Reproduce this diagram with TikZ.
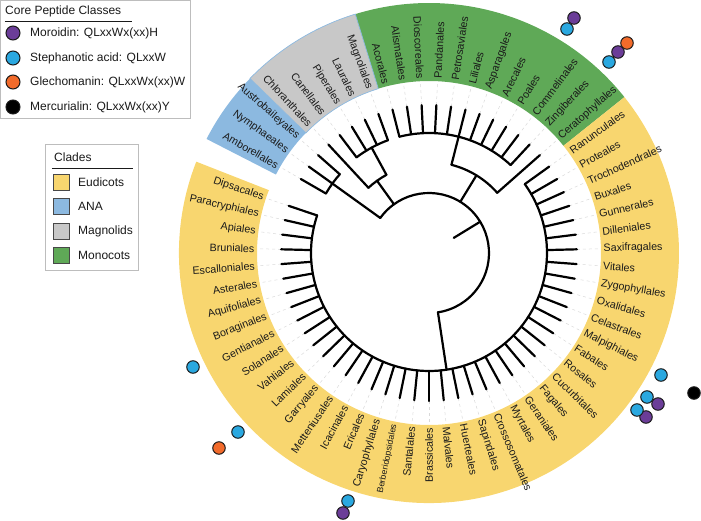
\documentclass[tikz,border=0pt]{standalone}
\usepackage{fontspec}
\setmainfont{Liberation Sans}
\usetikzlibrary{calc}
\definecolor{txt}{HTML}{1A1A1A}
\definecolor{eud}{HTML}{F8D66F}
\definecolor{ana}{HTML}{8CB9E0}
\definecolor{mag}{HTML}{C8C8C8}
\definecolor{mono}{HTML}{5FA957}
\definecolor{moro}{HTML}{6B3D98}
\definecolor{steph}{HTML}{2AA8E0}
\definecolor{glech}{HTML}{F26B2B}
\definecolor{merc}{HTML}{000000}
\definecolor{boxline}{HTML}{BDBDBD}
\tikzset{
  branch/.style={draw=black, line width=2.2pt, line cap=round, line join=round},
  tipline/.style={draw=black!15, dashed, line width=0.5pt},
  lab/.style={text=txt, font=\fontsize{10.7}{12}\selectfont, inner sep=0.5pt},
  legtxt/.style={text=txt, font=\fontsize{12}{14}\selectfont, anchor=west, inner sep=0pt},
  pep/.style={circle, draw=txt, line width=1pt, inner sep=0pt, minimum size=12.5pt},
  swatch/.style={draw=txt!80, line width=0.8pt},
  legbox/.style={draw=boxline, line width=1pt, fill=white},
}
% angle of leaf number #1 (0 = Amborellales, clockwise)
\newcommand{\lang}[1]{\fpeval{150-(#1)*360/63}}
% node arc at radius #1 from angle #2 to #3, stem from radius #4
\newcommand{\clade}[4]{%
  \draw[branch] (#2:#1) arc[start angle=#2, end angle=#3, radius=#1];
  \pgfmathsetmacro{\stemang}{(#2+#3)/2}
  \draw[branch] (\stemang:#4) -- (\stemang:#1);
}

\begin{document}
\begin{tikzpicture}[x=1pt,y=1pt]
  \useasboundingbox (-429,-267) rectangle (272,253);
  \def\Rin{172}
  \def\Rout{250}
  \def\Rtip{148}

  % clade sectors
  \foreach \a/\b/\c in {152.857/135.714/ana, 135.714/107.143/mag,
                        107.143/38.571/mono, 38.571/-201.429/eud}
    \fill[\c] (\a:\Rin) arc[start angle=\a, end angle=\b, radius=\Rin]
      -- (\b:\Rout) arc[start angle=\b, end angle=\a, radius=\Rout] -- cycle;
  \draw[ana, line width=0.7pt] (135.714:\Rin) arc[start angle=135.714, end angle=107.143, radius=\Rin]
      -- (107.143:\Rout) arc[start angle=107.143, end angle=135.714, radius=\Rout] -- cycle;

  % leaf labels
  \foreach \nm [count=\k from 0] in {Amborellales, Nymphaeales, Austrobaileyales,
      Chloranthales, Canellales, Piperales, Laurales, Magnoliales,
      Acorales, Alismatales, Dioscoreales, Pandanales, Petrosaviales, Liliales,
      Asparagales, Arecales, Poales, Commelinales, Zingiberales, Ceratophyllales,
      Ranunculales, Proteales, Trochodendrales, Buxales, Gunnerales, Dilleniales,
      Saxifragales, Vitales, Zygophyllales, Oxalidales, Celastrales, Malpighiales,
      Fabales, Rosales, Cucurbitales, Fagales, Geraniales, Myrtales,
      Crossosomatales, Sapindales, Huerteales, Malvales, Brassicales, Santalales,
      {\fontsize{8.8}{10}\selectfont Berberidopsidales}, Caryophyllales, Ericales,
      Icacinales, Metteniusales, Garryales, Lamiales, Vahliales, Solanales,
      Gentianales, Boraginales, Aquifoliales, Asterales, Escalloniales, Bruniales,
      Apiales, Paracryphiales, Dipsacales} {
    \pgfmathsetmacro{\a}{150-\k*5.7142857}
    \pgfmathsetmacro{\ra}{\a+180}
    \draw[tipline] (\a:\Rtip) -- (\a:\Rin);
    \ifnum\k<11
      \node[lab, anchor=east, rotate=\ra] at (\a:174) {\nm};
    \else\ifnum\k>41
      \node[lab, anchor=east, rotate=\ra] at (\a:174) {\nm};
    \else
      \node[lab, anchor=west, rotate=\a] at (\a:174) {\nm};
    \fi\fi
  }

  % tree: leaves
  \foreach \k/\r in {0/119, 1/119, 2/119, 3/89, 19/91}
    \draw[branch] (\lang{\k}:\r) -- (\lang{\k}:\Rtip);
  \foreach \k in {4,...,18}
    \draw[branch] (\lang{\k}:120) -- (\lang{\k}:\Rtip);
  \foreach \k in {20,...,61}
    \draw[branch] (\lang{\k}:118) -- (\lang{\k}:\Rtip);

  % tree: inner nodes
  \clade{119}{\lang{0}}{\lang{2}}{60}
  \clade{120}{\lang{4}}{\lang{7}}{89}
  \clade{89}{\lang{3}}{118.571}{60}
  \clade{120}{\lang{8}}{\lang{18}}{91}
  \clade{91}{75.714}{\lang{19}}{60}
  \clade{118}{\lang{20}}{\lang{61}}{60}
  \clade{60}{\lang{1}}{-81.429}{29}

  % legends and peptide marks, in pixel coordinates
  \begin{scope}[shift={(-429,253)}, yscale=-1]
    \draw[legbox] (1,1) rectangle (191,118);
    \node[legtxt] (pepttl) at (5,11) {Core Peptide Classes};
    \draw[txt, line width=0.9pt] (5,21) -- (132,21);
    \foreach \y/\c/\t in {33/moro/{Moroidin: QLxxWx(xx)H},
                          58/steph/{Stephanotic acid: QLxxW},
                          82/glech/{Glechomanin: QLxxWx(xx)W},
                          107/merc/{Mercurialin: QLxxWx(xx)Y}} {
      \node[pep, fill=\c, minimum size=14pt] at (13,\y) {};
      \node[legtxt] at (30,\y) {\t};
    }

    \draw[legbox] (46,144) rectangle (139,270);
    \node[legtxt] (cladettl) at (54,157) {Clades};
    \draw[txt, line width=0.9pt] (52,168) -- (133,168);
    \foreach \y/\c/\t in {182/eud/Eudicots, 206/ana/ANA, 231/mag/Magnolids, 255/mono/Monocots} {
      \draw[swatch, fill=\c] (53,\y-8) rectangle (69,\y+8);
      \node[legtxt] at (78,\y) {\t};
    }

    % peptide marks outside the ring
    \foreach \x/\y/\c in {574/18/moro, 567/29/steph,
                          627/43/glech, 618/52/moro, 609/62/steph,
                          661/375/steph, 694/393/merc,
                          658/404/moro, 647/397/steph,
                          646/417/moro, 637/410/steph,
                          193/367/steph, 238/432/steph, 219/448/glech,
                          348/501/steph, 343/513/moro}
      \node[pep, fill=\c] at (\x,\y) {};
  \end{scope}
\end{tikzpicture}
\end{document}
